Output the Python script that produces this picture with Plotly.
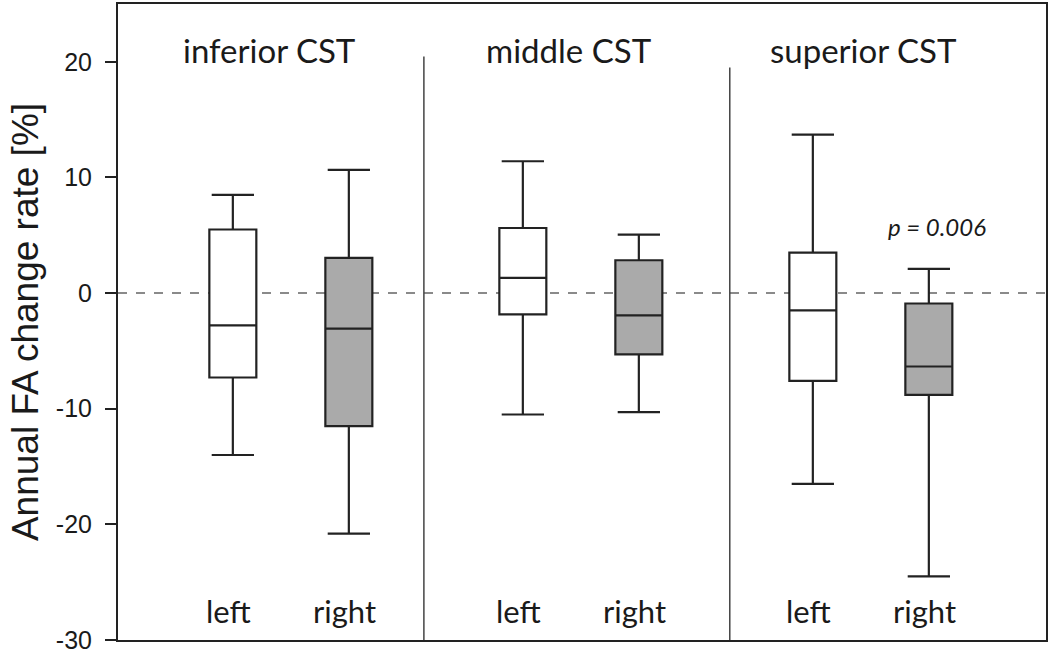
import plotly.graph_objects as go

# ---- data ----
regions = ["inferior CST", "middle CST", "superior CST"]
sides = ["left", "right", "left", "right", "left", "right"]
upper = [8.5, 10.65, 11.4, 5.05, 13.7, 2.1]
q3 = [5.5, 3.05, 5.63, 2.84, 3.5, -0.9]
median = [-2.8, -3.08, 1.32, -1.93, -1.5, -6.35]
q1 = [-7.3, -11.5, -1.84, -5.3, -7.6, -8.8]
lower = [-14.0, -20.8, -10.5, -10.3, -16.5, -24.5]
p_label = "p = 0.006"
y_ticks = [-30, -20, -10, 0, 10, 20]
y_tick_text = ["-30", "-20", "-10", "0", "10", "20"]

# ---- layout positions ----
pos = [1, 2, 3.5, 4.5, 6, 7]
fills = ["white", "#aaaaaa"] * 3
title_x = [1.32, 3.9, 6.44]
sep_x = [2.647, 5.284]
sep_top = [20.46, 19.5]

fig = go.Figure()
for i in range(6):
    fig.add_trace(go.Box(
        x=[pos[i]], q1=[q1[i]], median=[median[i]], q3=[q3[i]],
        lowerfence=[lower[i]], upperfence=[upper[i]],
        width=0.405, whiskerwidth=0.9, boxpoints=False,
        fillcolor=fills[i], line=dict(color="#222222", width=2.2),
        showlegend=False, hoverinfo="skip"))

# zero dashed line
fig.add_shape(type="line", xref="paper", x0=0, x1=1, yref="y", y0=0, y1=0,
              line=dict(color="#8a8a8a", width=2, dash="dash"), layer="below")
# separators
for sx, st in zip(sep_x, sep_top):
    fig.add_shape(type="line", xref="x", x0=sx, x1=sx, yref="y", y0=-30, y1=st,
                  line=dict(color="#444444", width=1.5))

font_lbl = "Lato, 'Open Sans', sans-serif"
for tx, r in zip(title_x, regions):
    fig.add_annotation(x=tx, y=21.0, text=r, showarrow=False,
                       font=dict(family=font_lbl, size=33, color="#1a1a1a"),
                       xanchor="center", yanchor="middle")
for px_, s in zip(pos, sides):
    fig.add_annotation(x=px_ - 0.04, y=-27.5, text=s, showarrow=False,
                       font=dict(family=font_lbl, size=31, color="#1a1a1a"),
                       xanchor="center", yanchor="middle")
fig.add_annotation(x=7.07, y=5.8, text="<i>" + p_label + "</i>", showarrow=False,
                   font=dict(family=font_lbl, size=24, color="#1a1a1a"),
                   xanchor="center", yanchor="middle")

fig.update_layout(
    width=1050, height=655,
    margin=dict(l=118, r=4, t=4, b=15),
    paper_bgcolor="white", plot_bgcolor="white",
    xaxis=dict(range=[0.01, 8.01], showticklabels=False, ticks="",
               showgrid=False, zeroline=False, showline=True, mirror=True,
               linecolor="#222222", linewidth=2, automargin=False),
    yaxis=dict(range=[-30, 25], tickvals=y_ticks, ticktext=y_tick_text,
               ticks="outside", ticklen=11, ticklabelstandoff=8,
               ticklabeloverflow="allow", automargin=False,
               tickwidth=2, tickcolor="#222222", showgrid=False, zeroline=False,
               showline=True, mirror=True, linecolor="#222222", linewidth=2,
               tickfont=dict(family="Liberation Sans, Arial, sans-serif", size=25,
                             color="#1a1a1a"),
               title=dict(text="Annual FA change rate [%]", standoff=6,
                          font=dict(family="Liberation Sans, Arial, sans-serif",
                                    size=37, color="#1a1a1a"))),
)

fig.write_html("out.html", config={"displayModeBar": False},
               post_script="document.body.style.margin='0px';document.body.style.padding='0px';")
